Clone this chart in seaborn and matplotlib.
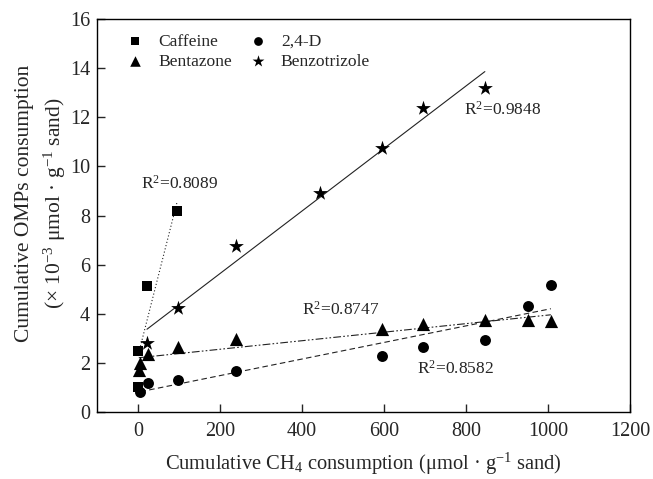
import matplotlib
matplotlib.use("Agg")
import matplotlib.pyplot as plt
import seaborn as sns
import pandas as pd
import numpy as np

# ---- data ----
caffeine_x = [0, 0, 22, 95]
caffeine_y = [1.0, 2.48, 5.13, 8.2]

d24_x = [6, 24, 97, 239, 595, 695, 846, 952, 1007]
d24_y = [0.82, 1.18, 1.3, 1.68, 2.28, 2.63, 2.92, 4.33, 5.17]

bentazone_x = [2, 5, 24, 97, 239, 595, 695, 846, 952, 1007]
bentazone_y = [1.7, 2.0, 2.35, 2.65, 2.97, 3.37, 3.58, 3.74, 3.75, 3.71]

benzo_x = [22, 97, 239, 444, 595, 695, 846]
benzo_y = [2.8, 4.23, 6.76, 8.92, 10.75, 12.38, 13.19]

r2_labels = ["0.8089", "0.8747", "0.8582", "0.9848"]
x_ticks = [0, 200, 400, 600, 800, 1000, 1200]
y_ticks = [0, 2, 4, 6, 8, 10, 12, 14, 16]

sns.set_style("ticks")
plt.rcParams["font.family"] = ["Liberation Serif", "DejaVu Serif"]
plt.rcParams["mathtext.default"] = "regular"
plt.rcParams["mathtext.fontset"] = "custom"
plt.rcParams["mathtext.rm"] = "Liberation Serif"
plt.rcParams["mathtext.it"] = "Liberation Serif:italic"

fig = plt.figure(figsize=(6.53, 4.79), dpi=100)
ax = fig.add_axes([0.1485, 0.1399, 0.9648 - 0.1485, 0.9603 - 0.1399])

series = [
    ("Caffeine", caffeine_x, caffeine_y, "s", 50, (0, (1, 2))),
    ("Bentazone", bentazone_x, bentazone_y, "^", 90, (0, (7, 2, 1.5, 2, 1.5, 2))),
    ("2,4-D", d24_x, d24_y, "o", 62, (0, (5, 3))),
    ("Benzotrizole", benzo_x, benzo_y, "*", 125, "-"),
]

for name, xs, ys, mk, sz, ls in series:
    df = pd.DataFrame({"x": xs, "y": ys})
    sns.regplot(data=df, x="x", y="y", ax=ax, scatter=False, ci=None,
                truncate=True, color="#222222",
                line_kws={"lw": 0.8, "ls": ls})
for name, xs, ys, mk, sz, ls in series:
    df = pd.DataFrame({"x": xs, "y": ys})
    sns.scatterplot(data=df, x="x", y="y", ax=ax, marker=mk, s=sz,
                    color="black", edgecolor="black", linewidth=0,
                    label=name, zorder=3)

ax.set_xlim(-100, 1200)
ax.set_ylim(0, 16)
ax.set_xticks(x_ticks)
ax.set_yticks(y_ticks)
ax.tick_params(direction="in", length=6, width=1, labelsize=14.5)
ax.tick_params(axis="x", pad=7)
ax.tick_params(axis="y", pad=5)
for sp in ax.spines.values():
    sp.set_linewidth(1.0)
    sp.set_color("black")

ax.set_xlabel("Cumulative CH$_4$ consumption (μmol · g$^{-1}$ sand)",
              fontsize=14.8, labelpad=7)
ax.set_ylabel("Cumulative OMPs consumption\n(× 10$^{-3}$ μmol · g$^{-1}$ sand)",
              fontsize=15.5, linespacing=1.4)
ax.yaxis.set_label_coords(-0.054, 0.532)

fs = 12.5
ax.text(7, 9.3, "R$^2$=" + r2_labels[0], fontsize=fs, ha="left", va="center")
ax.text(400, 4.15, "R$^2$=" + r2_labels[1], fontsize=fs, ha="left", va="center")
ax.text(680, 1.75, "R$^2$=" + r2_labels[2], fontsize=fs, ha="left", va="center")
ax.text(795, 12.3, "R$^2$=" + r2_labels[3], fontsize=fs, ha="left", va="center")

ax.legend(ncol=2, frameon=False, loc="upper left", fontsize=12.6,
          bbox_to_anchor=(0.026, 1.003), handlelength=1.0, handletextpad=0.8,
          columnspacing=1.0, labelspacing=0.2, markerscale=0.8)

fig.savefig("out.png", dpi=100)
